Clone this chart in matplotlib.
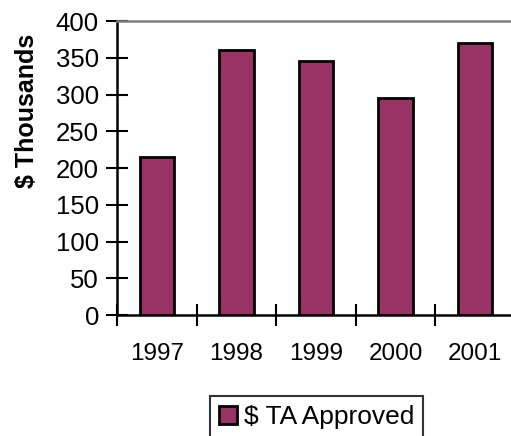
import matplotlib
matplotlib.use("Agg")
import matplotlib.pyplot as plt
from matplotlib.patches import Patch

years = ["1997", "1998", "1999", "2000", "2001"]
values = [215, 360, 345, 295, 370]
yticks = [0, 50, 100, 150, 200, 250, 300, 350, 400]

plt.rcParams['font.family'] = ['Liberation Sans', 'DejaVu Sans']

fig = plt.figure(figsize=(5.11, 4.36), dpi=100)
ax = fig.add_axes([117/511, 121/436, 5*79.6/511, 294/436])

x = list(range(len(years)))
ax.bar(x, values, width=0.43, color="#993366", edgecolor="black", linewidth=2.0, zorder=3)

ax.set_xlim(-0.5, len(years) - 0.5)
ax.set_ylim(0, 400)
ax.set_yticks(yticks)
ax.set_yticklabels([str(v) for v in yticks], fontsize=18.5)

ax.set_xticks([i - 0.5 for i in range(len(years))])
ax.set_xticklabels([])
ax.set_xticks(x, minor=True)
ax.set_xticklabels(years, minor=True, fontsize=17.5)
ax.tick_params(axis='x', which='minor', length=0, pad=20)
ax.tick_params(axis='x', which='major', direction='inout', length=16, width=1.5)
ax.tick_params(axis='y', direction='inout', length=16, width=1.5, pad=5)

for s in ['left', 'bottom']:
    ax.spines[s].set_linewidth(1.8)
    ax.spines[s].set_color('black')
ax.spines['right'].set_visible(False)
ax.spines['top'].set_color('#808080')
ax.spines['top'].set_linewidth(1.8)

fig.text(27/511, 1 - 111/436, "$ Thousands", rotation=90, ha='center', va='center',
         fontsize=18, fontweight='bold')

handle = Patch(facecolor="#993366", edgecolor="black", linewidth=2.0)
leg = fig.legend([handle], ["$ TA Approved"], loc='upper center',
                 bbox_to_anchor=(316.5/511, 1 - 396/436), fontsize=19,
                 frameon=True, fancybox=False, edgecolor='black',
                 handlelength=0.7, handleheight=0.7, handletextpad=0.25,
                 borderpad=0.35, borderaxespad=0)
leg.get_frame().set_linewidth(1.5)

fig.savefig("out.png", dpi=100)
